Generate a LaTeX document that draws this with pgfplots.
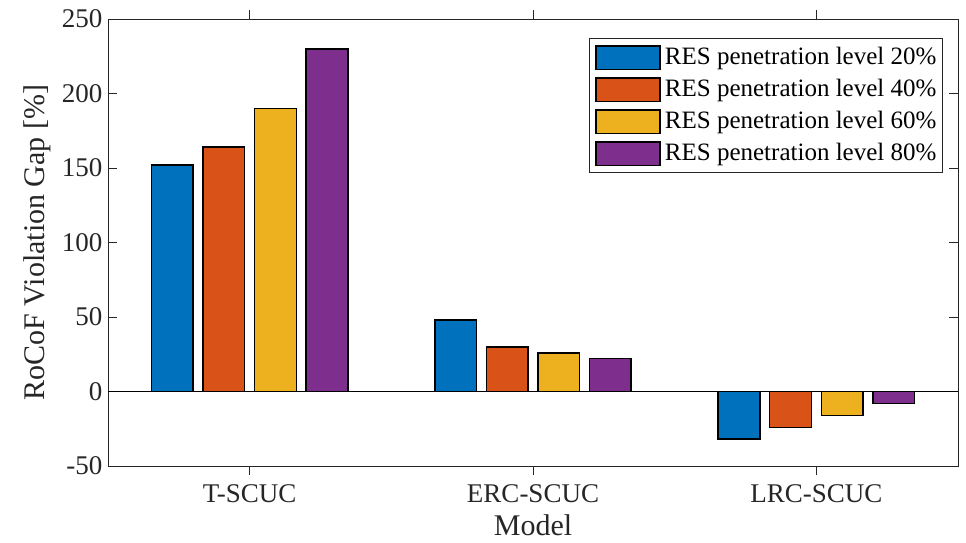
\documentclass[border=0pt]{standalone}
\usepackage{pgfplots}
\pgfplotsset{compat=1.18}
\usepackage{fontspec}
\setmainfont{Liberation Serif}
\definecolor{c1}{rgb}{0,0.447,0.741}
\definecolor{c2}{rgb}{0.85,0.325,0.098}
\definecolor{c3}{rgb}{0.929,0.694,0.125}
\definecolor{c4}{rgb}{0.494,0.184,0.556}
\definecolor{axc}{rgb}{0.15,0.15,0.15}
\begin{document}
\begin{tikzpicture}
\begin{axis}[
  scale only axis,
  width=850pt, height=447pt,
  xmin=0.5, xmax=3.5,
  ymin=-50, ymax=250,
  xtick={1,2,3},
  xticklabels={T-SCUC,ERC-SCUC,LRC-SCUC},
  ytick={-50,0,50,100,150,200,250},
  yticklabels={-50,0,50,100,150,200,250},
  tick pos=both,
  tick align=inside,
  major tick length=9pt,
  tick style={axc, line width=0.8pt},
  axis line style={axc, line width=0.8pt},
  ticklabel style={font=\fontsize{27}{31}\selectfont, text=axc},
  label style={font=\fontsize{30}{35}\selectfont, text=axc},
  xlabel={Model},
  ylabel={RoCoF Violation Gap [\%]},
  xticklabel shift=6pt,
  yticklabel shift=2pt,
  xlabel style={yshift=-5pt},
  ylabel style={yshift=4pt},
  ybar,
  bar width=0.147,
  legend style={
    at={(0.982,0.957)}, anchor=north east,
    draw=axc, line width=0.6pt, fill=white,
    font=\fontsize{25}{29}\selectfont,
    inner xsep=6pt, inner ysep=6.5pt,
    row sep=7pt, column sep=4pt,
    nodes={inner sep=0pt},
  },
  legend cell align=left,
  legend image code/.code={\draw[#1, line width=1.5pt] (0pt,-13pt) rectangle (64pt,10.5pt);},
]
\addplot[black, line width=0.7pt, forget plot, sharp plot] coordinates {(0.5,0) (3.5,0)};
\addplot[fill=c1, draw=black, line width=1.5pt, bar shift=-0.273] coordinates {(1,152) (2,48) (3,-32)};
\addplot[fill=c2, draw=black, line width=1.5pt, bar shift=-0.091] coordinates {(1,164) (2,30) (3,-24)};
\addplot[fill=c3, draw=black, line width=1.5pt, bar shift=0.091] coordinates {(1,190) (2,26) (3,-16)};
\addplot[fill=c4, draw=black, line width=1.5pt, bar shift=0.273] coordinates {(1,230) (2,22) (3,-8)};
\legend{RES penetration level 20\%,RES penetration level 40\%,RES penetration level 60\%,RES penetration level 80\%}
\end{axis}
\useasboundingbox ([shift={(-108pt,-77pt)}]current axis.south west) rectangle ([shift={(8pt,19pt)}]current axis.north east);
\end{tikzpicture}
\end{document}
